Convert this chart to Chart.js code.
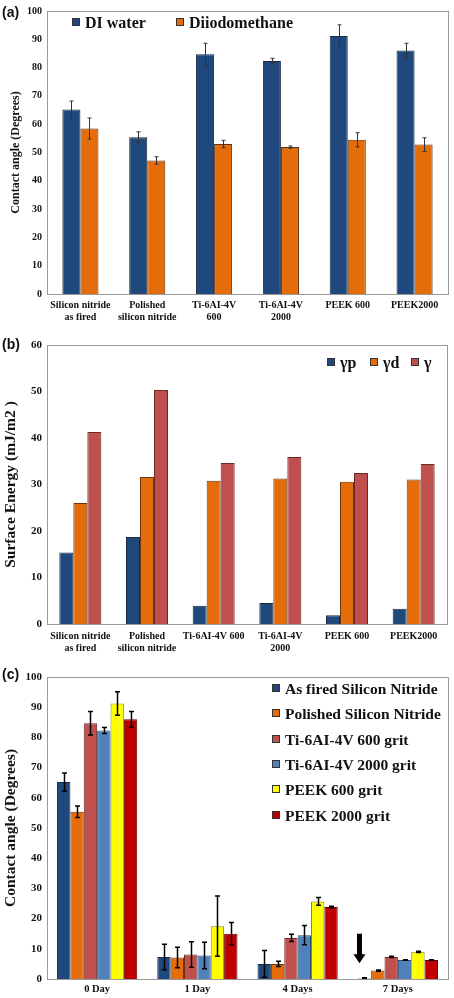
<!DOCTYPE html>
<html>
<head>
<meta charset="utf-8">
<script src="https://cdn.jsdelivr.net/npm/chart.js@4.4.1/dist/chart.umd.min.js"></script>
<style>
  body{margin:0;background:#fff;width:454px;height:998px;position:relative;overflow:hidden;font-family:"Liberation Serif","Times New Roman",serif}
  canvas{position:absolute;left:0}
  .tag{position:absolute;left:2px;font:bold 14px "Liberation Sans",Arial,sans-serif;color:#111}
  .leg{position:absolute;font-weight:bold;color:#111;white-space:nowrap;line-height:1}
  .leg .it{position:absolute;white-space:nowrap}
  .leg i{display:inline-block;width:6px;height:6px;border:1px solid #333;margin-right:5px;vertical-align:middle;position:relative;top:-2px}
</style>
</head>
<body>
<canvas id="chartA" width="454" height="330" style="top:0"></canvas>
<canvas id="chartB" width="454" height="330" style="top:330px"></canvas>
<canvas id="chartC" width="454" height="338" style="top:660px"></canvas>

<div class="tag" style="top:4px">(a)</div>
<div class="tag" style="top:336px">(b)</div>
<div class="tag" style="top:666px">(c)</div>

<div id="legA" class="leg" style="font-size:16px"></div>
<div id="legB" class="leg" style="font-size:16px"></div>
<div id="legC" class="leg" style="font-size:15.5px"></div>

<script>
// ---- panel (a): contact angle ----
const samples = [['Silicon nitride','as fired'],['Polished','silicon nitride'],['Ti-6AI-4V','600'],['Ti-6AI-4V','2000'],'PEEK 600','PEEK2000'];
const diWater = [65.2, 55.4, 84.7, 82.3, 91.2, 86.0];
const diWaterErr = [3.0, 1.9, 3.9, 1.0, 3.9, 2.6];
const diiodo = [58.5, 47.2, 53.0, 51.9, 54.5, 52.8];
const diiodoErr = [3.7, 1.3, 1.3, 0.4, 2.5, 2.4];

// ---- panel (b): surface energy ----
const samplesB = [['Silicon nitride','as fired'],['Polished','silicon nitride'],'Ti-6AI-4V 600',['Ti-6AI-4V','2000'],'PEEK 600','PEEK2000'];
const gammaP = [15.4, 18.7, 3.9, 4.5, 1.9, 3.3];
const gammaD = [26.0, 31.6, 30.8, 31.3, 30.6, 31.1];
const gammaT = [41.3, 50.3, 34.6, 35.9, 32.5, 34.4];

// ---- panel (c): contact angle vs time ----
const days = ['0 Day','1 Day','4 Days','7 Days'];
const asFired = [65.2, 7.3, 5.0, 0.2];
const asFiredErr = [3.0, 4.2, 4.4, 0.2];
const polished = [55.4, 7.1, 5.0, 2.8];
const polishedErr = [1.9, 3.4, 0.9, 0.2];
const ti600 = [84.7, 8.1, 13.6, 7.3];
const ti600Err = [3.9, 4.2, 1.2, 0.2];
const ti2000 = [82.3, 7.8, 14.5, 6.3];
const ti2000Err = [1.0, 4.4, 3.2, 0.1];
const peek600 = [91.2, 17.5, 25.7, 9.0];
const peek600Err = [3.9, 10.0, 1.3, 0.2];
const peek2000 = [86.0, 15.0, 23.8, 6.3];
const peek2000Err = [2.6, 3.7, 0.3, 0.1];

const C = {navy:'#1f497d', orange:'#e46c0a', rose:'#c0504d', sky:'#4f81bd', yellow:'#ffff00', red:'#c00000'};
const serif = '"Liberation Serif","Times New Roman",serif';

// grey frame round the plot area
const frame = {
  id:'frame',
  afterDraw(chart){
    const {ctx, chartArea:a} = chart;
    ctx.save();
    ctx.strokeStyle = '#9a9a9a';
    ctx.lineWidth = 1;
    ctx.strokeRect(Math.round(a.left)+0.5, Math.round(a.top)+0.5, Math.round(a.right-a.left), Math.round(a.bottom-a.top));
    ctx.restore();
  }
};

// error bars from dataset.errors
const errBars = {
  id:'errBars',
  afterDatasetsDraw(chart, args, opts){
    const {ctx} = chart;
    const y = chart.scales.y;
    ctx.save();
    ctx.strokeStyle = opts.color || '#222';
    ctx.lineWidth = opts.width || 1;
    chart.data.datasets.forEach((ds, di) => {
      if(!ds.errors) return;
      chart.getDatasetMeta(di).data.forEach((bar, i) => {
        const v = ds.data[i], e = ds.errors[i];
        const x = Math.round(bar.x) + 0.5;
        const yt = y.getPixelForValue(v + e), yb = y.getPixelForValue(Math.max(0, v - e));
        const w = opts.cap || 2;
        ctx.beginPath();
        ctx.moveTo(x, yt); ctx.lineTo(x, yb);
        ctx.moveTo(x - w, yt); ctx.lineTo(x + w, yt);
        ctx.moveTo(x - w, yb); ctx.lineTo(x + w, yb);
        ctx.stroke();
      });
    });
    ctx.restore();
  }
};

function yAxis(max, title, titleSize, titlePad, tickSize){
  return {
    min:0, max:max,
    ticks:{stepSize:10, color:'#111', padding:5, font:{family:serif, weight:'bold', size:tickSize}},
    grid:{display:false, drawTicks:false}, border:{display:false},
    title:{display:true, text:title, color:'#111', padding:{top:titlePad, bottom:0}, font:{family:serif, weight:'bold', size:titleSize}},
    afterFit(s){ s.width = 47; }
  };
}
function xAxis(h, size, pad){
  return {
    ticks:{color:'#111', padding:pad, maxRotation:0, autoSkip:false, font:{family:serif, weight:'bold', size:size, lineHeight:1.15}},
    grid:{display:false, drawTicks:false}, border:{display:false},
    afterFit(s){ s.height = h; }
  };
}
const base = {responsive:false, animation:false, plugins:{legend:{display:false}, tooltip:{enabled:false}}};

new Chart(document.getElementById('chartA'), {
  type:'bar',
  data:{labels:samples, datasets:[
    {label:'DI water', data:diWater, errors:diWaterErr, backgroundColor:C.navy, borderColor:'#1a2a40', borderWidth:1},
    {label:'Diiodomethane', data:diiodo, errors:diiodoErr, backgroundColor:C.orange, borderColor:'#5a3010', borderWidth:1}
  ]},
  options:{...base,
    layout:{padding:{top:7, right:6, left:0, bottom:0}},
    datasets:{bar:{categoryPercentage:0.54, barPercentage:1}},
    plugins:{...base.plugins, errBars:{color:'#333', width:1, cap:2}},
    scales:{x:xAxis(36, 10, 6), y:yAxis(100, 'Contact angle (Degrees)', 12, 9, 10)}
  },
  plugins:[frame, errBars]
});

new Chart(document.getElementById('chartB'), {
  type:'bar',
  data:{labels:samplesB, datasets:[
    {label:'γp', data:gammaP, backgroundColor:C.navy, borderColor:'#1a2a40', borderWidth:1},
    {label:'γd', data:gammaD, backgroundColor:C.orange, borderColor:'#6a3510', borderWidth:1},
    {label:'γ', data:gammaT, backgroundColor:C.rose, borderColor:'#6a2a28', borderWidth:1}
  ]},
  options:{...base,
    layout:{padding:{top:15, right:7, left:0, bottom:0}},
    datasets:{bar:{categoryPercentage:0.63, barPercentage:1}},
    scales:{x:xAxis(36, 10, 7), y:yAxis(60, 'Surface Energy (mJ/m2 )', 15.5, 2, 11)}
  },
  plugins:[frame]
});

// arrow over the 7 Days group (as fired sample)
const arrow = {
  id:'arrow',
  afterDatasetsDraw(chart){
    const bar = chart.getDatasetMeta(0).data[3];
    const y = chart.scales.y;
    const x = bar.x - 5, y0 = y.getPixelForValue(15), y1 = y.getPixelForValue(5.2);
    const ctx = chart.ctx;
    ctx.save();
    ctx.fillStyle = '#000';
    ctx.fillRect(x - 2.5, y0, 5, (y1 - y0) - 8);
    ctx.beginPath();
    ctx.moveTo(x - 6, y1 - 9); ctx.lineTo(x + 6, y1 - 9); ctx.lineTo(x, y1);
    ctx.closePath(); ctx.fill();
    ctx.restore();
  }
};

new Chart(document.getElementById('chartC'), {
  type:'bar',
  data:{labels:days, datasets:[
    {label:'As fired Silicon Nitride', data:asFired, errors:asFiredErr, backgroundColor:C.navy, borderColor:'#1a2a40', borderWidth:1},
    {label:'Polished Silicon Nitride', data:polished, errors:polishedErr, backgroundColor:C.orange, borderColor:'#6a3510', borderWidth:1},
    {label:'Ti-6AI-4V 600 grit', data:ti600, errors:ti600Err, backgroundColor:C.rose, borderColor:'#6a2a28', borderWidth:1},
    {label:'Ti-6AI-4V 2000 grit', data:ti2000, errors:ti2000Err, backgroundColor:C.sky, borderColor:'#2c4a70', borderWidth:1},
    {label:'PEEK 600 grit', data:peek600, errors:peek600Err, backgroundColor:C.yellow, borderColor:'#8a8a10', borderWidth:1},
    {label:'PEEK 2000 grit', data:peek2000, errors:peek2000Err, backgroundColor:C.red, borderColor:'#600000', borderWidth:1}
  ]},
  options:{...base,
    layout:{padding:{top:17, right:6, left:0, bottom:0}},
    datasets:{bar:{categoryPercentage:0.8, barPercentage:1}},
    plugins:{...base.plugins, errBars:{color:'#000', width:1.5, cap:2.5}},
    scales:{x:xAxis(19, 10.5, 4), y:yAxis(100, 'Contact angle (Degrees)', 15.5, 2, 11)}
  },
  plugins:[frame, errBars, arrow]
});

// HTML legends
function legend(id, items, pos){
  const el = document.getElementById(id);
  items.forEach((it, k) => {
    const d = document.createElement('div');
    d.className = 'it';
    d.style.left = pos[k][0] + 'px';
    d.style.top = pos[k][1] + 'px';
    d.innerHTML = '<i style="background:' + it[1] + '"></i>' + it[0];
    el.appendChild(d);
  });
}
legend('legA', [['DI water', C.navy], ['Diiodomethane', C.orange]], [[72, 15], [176, 15]]);
legend('legB', [['γp', C.navy], ['γd', C.orange], ['γ', C.rose]], [[327, 355], [370, 355], [411, 355]]);
legend('legC', [['As fired Silicon Nitride', C.navy], ['Polished Silicon Nitride', C.orange], ['Ti-6AI-4V 600 grit', C.rose], ['Ti-6AI-4V 2000 grit', C.sky], ['PEEK 600 grit', C.yellow], ['PEEK 2000 grit', C.red]],
  [[272, 681], [272, 706], [272, 732], [272, 757], [272, 782], [272, 808]]);
</script>
</body>
</html>
